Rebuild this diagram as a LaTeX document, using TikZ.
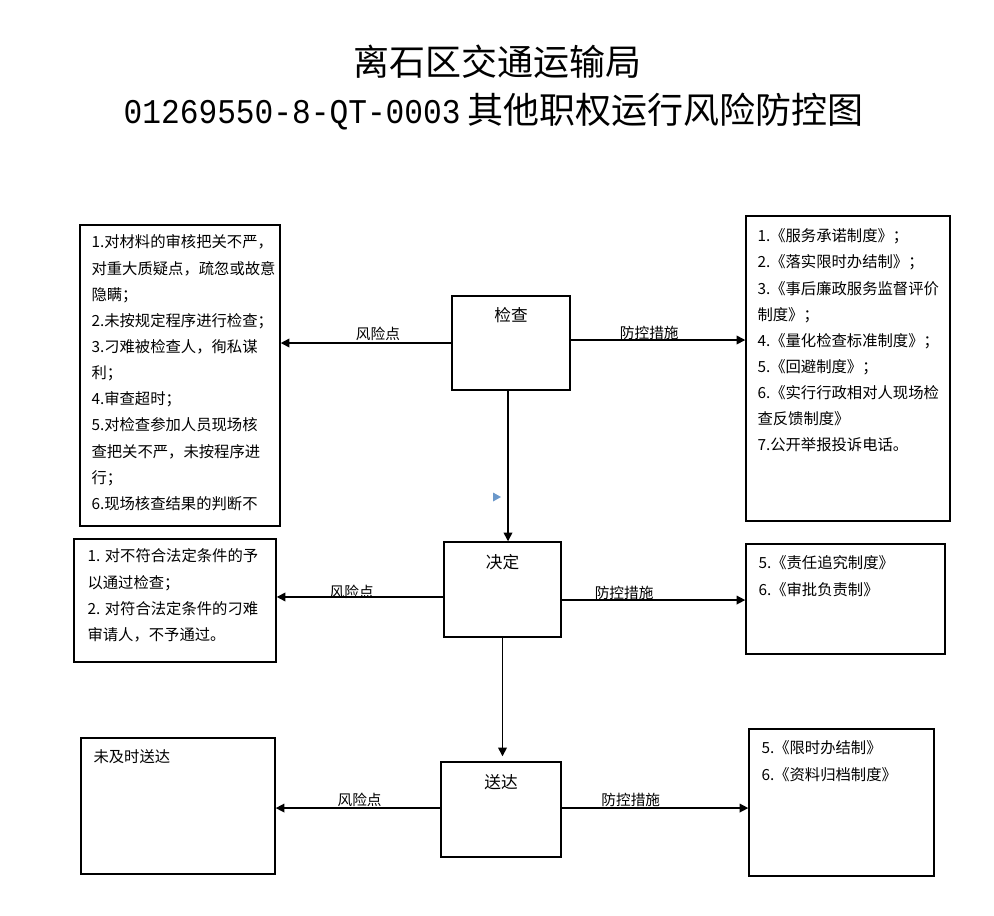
\documentclass[tikz,border=0pt]{standalone}
\usepackage{fontspec}
\setmainfont{Noto Sans CJK SC}
\newfontfamily\codefont[FakeStretch=0.9]{Liberation Mono}
\usetikzlibrary{arrows.meta}

\begin{document}
\begin{tikzpicture}[x=0.75pt,y=-0.75pt]
	\tikzset{box/.style 2 args={draw,line width=1.1pt,inner sep=0pt,minimum width=#1*0.75pt,minimum height=#2*0.75pt}}
	\tikzset{txt/.style={inner sep=0pt,align=left,anchor=north west,font=\fontsize{11.5}{19.6}\selectfont}}
	\tikzset{step name/.style={inner sep=0pt,font=\fontsize{12.5}{15}\selectfont}}
	\tikzset{flow/.style={-{Triangle[length=6.5pt,width=6.5pt]},line width=1.1pt}}
	\tikzset{lbl/.style={inner sep=0pt,font=\fontsize{11}{13}\selectfont}}
	\useasboundingbox (0,0) rectangle (994,915);
	
	\node (title) at (497,62) {\fontsize{27}{32}\selectfont 离石区交通运输局};
	\node (code) at (493.5,112) {{\fontsize{26}{30}\codefont 01269550-8-QT-0003}\hspace{5pt}{\fontsize{27}{32}\selectfont 其他职权运行风险防控图}};
	
	\node (chk) at (511,343) [box={118}{94}]{};
	\node (dec) at (502.5,589.5) [box={117}{95}]{};
	\node (snd) at (501,809.5) [box={120}{95}]{};
	\node (chkt) at ([yshift=-15pt]chk.north) [step name]{检查};
	\node (dect) at ([yshift=-15.75pt]dec.north) [step name]{决定};
	\node (sndt) at ([yshift=-15.75pt]snd.north) [step name]{送达};
	
	\node (risk1) at (180,375.5) [box={200}{301}]{};
	\node (ctrl1) at (848,368.5) [box={204}{305}]{};
	\node (risk2) at (175,600.5) [box={202}{123}]{};
	\node (ctrl2) at (845.5,599) [box={199}{110}]{};
	\node (risk3) at (178,806) [box={194}{136}]{};
	\node (ctrl3) at (841.5,802.5) [box={185}{147}]{};
	
	\node (risk1t) at ([xshift=9pt,yshift=-7.8pt]risk1.north west) [txt]{1.对材料的审核把关不严，\\对重大质疑点，疏忽或故意\\隐瞒；\\2.未按规定程序进行检查；\\3.刁难被检查人，徇私谋\\利；\\4.审查超时；\\5.对检查参加人员现场核\\查把关不严，未按程序进\\行；\\6.现场核查结果的判断不};
	\node (ctrl1t) at ([xshift=9pt,yshift=-10pt]ctrl1.north west) [txt]{1.《服务承诺制度》；\\2.《落实限时办结制》；\\3.《事后廉政服务监督评价\\制度》；\\4.《量化检查标准制度》；\\5.《回避制度》；\\6.《实行行政相对人现场检\\查反馈制度》\\7.公开举报投诉电话。};
	\node (risk2t) at ([xshift=10.5pt,yshift=-7.8pt]risk2.north west) [txt]{1. 对不符合法定条件的予\\以通过检查；\\2. 对符合法定条件的刁难\\审请人，不予通过。};
	\node (ctrl2t) at ([xshift=9.75pt,yshift=-9.3pt]ctrl2.north west) [txt]{5.《责任追究制度》\\6.《审批负责制》};
	\node (risk3t) at ([xshift=9.75pt,yshift=-9.3pt]risk3.north west) [txt]{未及时送达};
	\node (ctrl3t) at ([xshift=9.75pt,yshift=-9.3pt]ctrl3.north west) [txt]{5.《限时办结制》\\6.《资料归档制度》};
	
	\draw [flow] (chk.west) -- node[lbl, above=1pt, pos=0.43]{风险点} (chk.west -| risk1.east);
	\draw [flow] ([yshift=2.25pt]chk.east) -- node[lbl, above=0pt, pos=0.45]{防控措施} ([yshift=2.25pt]chk.east -| ctrl1.west);
	\draw [flow] ([xshift=-2.25pt]chk.south) -- ([xshift=-2.25pt]chk.south |- dec.north);
	
	\draw [flow] ([yshift=-5.6pt]dec.west) -- node[lbl, above=-1.5pt, pos=0.55]{风险点} ([yshift=-5.6pt]dec.west -| risk2.east);
	\draw [flow] ([yshift=-7.9pt]dec.east) -- node[lbl, above=0pt, pos=0.34]{防控措施} ([yshift=-7.9pt]dec.east -| ctrl2.west);
	\draw [flow, shorten >=3.75pt] (dec.south) -- (dec.south |- snd.north);
	
	\draw [flow] ([yshift=1.1pt]snd.west) -- node[lbl, above=0.5pt, pos=0.49]{风险点} ([yshift=1.1pt]snd.west -| risk3.east);
	\draw [flow] ([yshift=1.1pt]snd.east) -- node[lbl, above=0.5pt, pos=0.37]{防控措施} ([yshift=1.1pt]snd.east -| ctrl3.west);
	
	\fill [fill={rgb,255:red,107;green,152;blue,202}] (493,492.5) -- (501,497) -- (493,501.5) -- cycle;
\end{tikzpicture}
\end{document}
